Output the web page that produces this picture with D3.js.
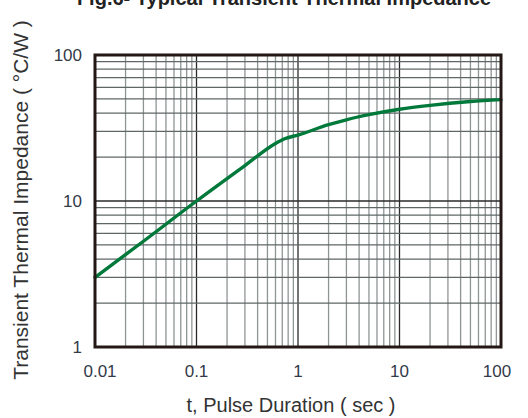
<!DOCTYPE html>
<html>
<head>
<meta charset="utf-8">
<script src="https://cdn.jsdelivr.net/npm/d3@7"></script>
<style>
  body { margin: 0; background: #fff; }
  text { font-family: "Liberation Sans", Arial, sans-serif; }
</style>
</head>
<body>
<div id="chart"></div>
<script>
// chart data
var pulseTime = [0.01, 0.03, 0.1, 0.3, 0.6, 0.75, 1, 2, 3, 5, 10, 20, 50, 100];
var impedance = [3.0, 5.3, 10, 17.5, 24.8, 26.8, 28.3, 33.3, 36, 39.0, 42.5, 45.2, 48, 49.5];
var xTicks = [0.01, 0.1, 1, 10, 100];
var xTickLabels = ["0.01", "0.1", "1", "10", "100"];
var yTicks = [1, 10, 100];
var yTickLabels = ["1", "10", "100"];

var svgWidth = 528;
var svgHeight = 418;
var margin = { top: 55, right: 27, bottom: 71, left: 95 };
var width = svgWidth - margin.left - margin.right;
var height = svgHeight - margin.top - margin.bottom;

var svg = d3.select("#chart")
  .append("svg")
  .attr("width", svgWidth)
  .attr("height", svgHeight);

var chartGroup = svg.append("g")
  .attr("transform", `translate(${margin.left}, ${margin.top})`);

var xScale = d3.scaleLog().domain([0.01, 100]).range([0, width]);
var yScale = d3.scaleLog().domain([1, 100]).range([height, 0]);

// minor grid values 2..9 in each decade
var xMinor = [];
[0.01, 0.1, 1, 10].forEach(function(d) {
  for (var k = 2; k <= 9; k++) xMinor.push(d * k);
});
var yMinor = [];
[1, 10].forEach(function(d) {
  for (var k = 2; k <= 9; k++) yMinor.push(d * k);
});

// vertical grid
chartGroup.selectAll(".vminor")
  .data(xMinor)
  .enter()
  .append("line")
  .attr("x1", d => xScale(d))
  .attr("x2", d => xScale(d))
  .attr("y1", 0)
  .attr("y2", height)
  .attr("stroke", "#8f9595")
  .attr("stroke-width", 1.3);

chartGroup.selectAll(".vmajor")
  .data(xTicks.slice(1, -1))
  .enter()
  .append("line")
  .attr("x1", d => xScale(d))
  .attr("x2", d => xScale(d))
  .attr("y1", 0)
  .attr("y2", height)
  .attr("stroke", "#2a2a2a")
  .attr("stroke-width", 1.3);

// horizontal grid
chartGroup.selectAll(".hminor")
  .data(yMinor)
  .enter()
  .append("line")
  .attr("x1", 0)
  .attr("x2", width)
  .attr("y1", d => yScale(d))
  .attr("y2", d => yScale(d))
  .attr("stroke", "#5f6666")
  .attr("stroke-width", 1.2);

chartGroup.selectAll(".hmajor")
  .data(yTicks.slice(1, -1))
  .enter()
  .append("line")
  .attr("x1", 0)
  .attr("x2", width)
  .attr("y1", d => yScale(d))
  .attr("y2", d => yScale(d))
  .attr("stroke", "#2a2a2a")
  .attr("stroke-width", 1.3);

// curve
var points = pulseTime.map((t, i) => [t, impedance[i]]);
var line = d3.line()
  .x(d => xScale(d[0]))
  .y(d => yScale(d[1]))
  .curve(d3.curveMonotoneX);

chartGroup.append("path")
  .datum(points)
  .attr("d", line)
  .attr("fill", "none")
  .attr("stroke", "#00793a")
  .attr("stroke-width", 3.4)
  .attr("stroke-linecap", "round");

// frame
chartGroup.append("rect")
  .attr("x", 0)
  .attr("y", 0)
  .attr("width", width)
  .attr("height", height)
  .attr("fill", "none")
  .attr("stroke", "#231815")
  .attr("stroke-width", 3);

// tick labels
chartGroup.selectAll(".xlabel")
  .data(xTicks)
  .enter()
  .append("text")
  .attr("x", (d, i) => xScale(d) + (i === 0 ? 5 : (i === 4 ? -4 : 0)))
  .attr("y", height + 30)
  .attr("text-anchor", "middle")
  .attr("font-size", "17px")
  .attr("fill", "#333a48")
  .text((d, i) => xTickLabels[i]);

chartGroup.selectAll(".ylabel")
  .data(yTicks)
  .enter()
  .append("text")
  .attr("x", -13)
  .attr("y", d => yScale(d) + 6)
  .attr("text-anchor", "end")
  .attr("font-size", "17px")
  .attr("fill", "#333a48")
  .text((d, i) => yTickLabels[i]);

// title, cut off at the top as in the source figure
svg.append("text")
  .attr("x", 284)
  .attr("y", 5)
  .attr("text-anchor", "middle")
  .attr("font-size", "20px")
  .attr("font-weight", "bold")
  .attr("fill", "#222")
  .text("Fig.6- Typical Transient Thermal Impedance");

// axis titles
svg.append("text")
  .attr("transform", "translate(28, 200) rotate(-90)")
  .attr("text-anchor", "middle")
  .attr("font-size", "21px")
  .attr("fill", "#333")
  .text("Transient Thermal Impedance ( °C/W )");

svg.append("text")
  .attr("x", 291)
  .attr("y", 412)
  .attr("text-anchor", "middle")
  .attr("font-size", "20px")
  .attr("fill", "#333")
  .text("t, Pulse Duration ( sec )");
</script>
</body>
</html>
